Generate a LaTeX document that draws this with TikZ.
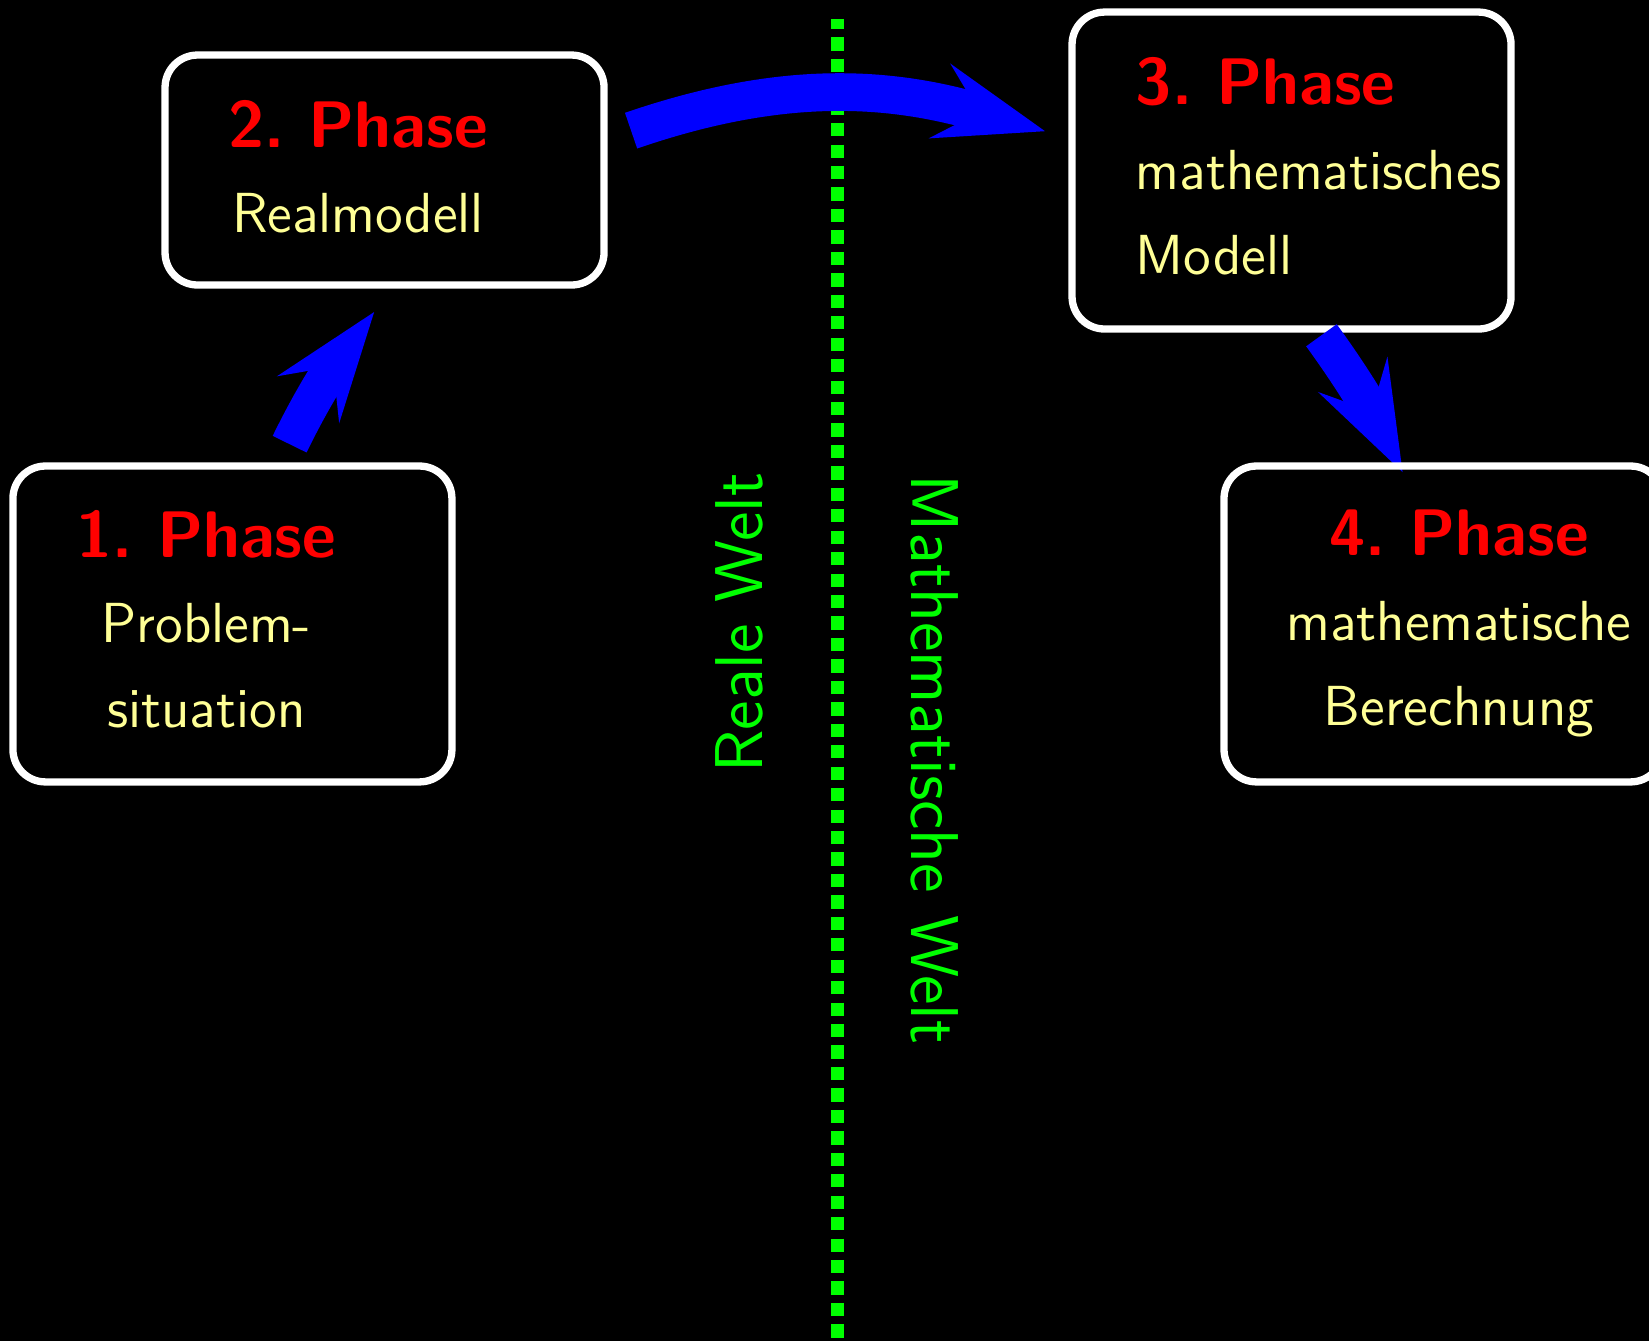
\documentclass[tikz,border=0pt]{standalone}
\usepackage{tikz}
\usepackage{xcolor}
\usetikzlibrary{arrows.meta}
\definecolor{paleyellow}{RGB}{255,255,150}
\newcommand{\phasehead}[1]{{\color{red}\Large\bfseries #1}}
\frenchspacing
\pgfdeclarelayer{front}
\pgfsetlayers{main,front}

\begin{document}
\begin{tikzpicture}[
phasebox/.style={draw=white,ultra thick,rounded corners=0.25cm,minimum width=3.377cm},
phasetext/.style={inner sep=0pt,text=paleyellow,font=\sffamily\fontsize{12.36}{14}\selectfont},
worldlabel/.style={inner sep=0pt,text=green,font=\sffamily\fontsize{14.8}{18}\selectfont,anchor=base},
arrow/.style={-{Stealth[length=0.845cm,width=0.6cm,inset=0.32cm,line width=0pt]},line width=0.29cm,blue}
]
\fill[black] (0,0) rectangle (12.685,-10.315);
\useasboundingbox (0,0) rectangle (12.685,-10.315);
% border between the two worlds
\coordinate (divtop) at (6.442,-0.146);
\coordinate (divbot) at (6.442,-10.4);
\draw[green,line width=0.1cm,dash pattern=on 0.102cm off 0.063cm,dash phase=0.024cm] (divtop) -- (divbot);
\node[worldlabel,rotate=90] (real) at (5.867,-4.792) {Reale Welt};
\node[worldlabel,rotate=-90] (math) at (7.008,-5.844) {Mathematische Welt};
% phases
\node[phasebox,minimum height=2.43cm] (p1) at (1.788,-4.80) {};
\node[phasebox,minimum height=1.769cm] (p2) at (2.958,-1.308) {};
\node[phasebox,minimum height=2.438cm] (p3) at (9.935,-1.312) {};
\begin{pgfonlayer}{front}
\node[phasebox,minimum height=2.43cm] (p4) at (11.104,-4.80) {};
\end{pgfonlayer}
\node[phasetext,align=center,anchor=north] (t1) at (1.588,-3.923) {\phasehead{1. Phase}\\[4.6pt]Problem-\\[4.6pt]situation};
\node[phasetext,align=center,anchor=north] (t2) at (2.754,-0.762) {\phasehead{2. Phase}\\[4.6pt]Realmodell};
\node[phasetext,align=left,anchor=north west] (t3) at (8.731,-0.432) {\phasehead{3. Phase}\\[4.6pt]mathematisches\\[4.6pt]Modell};
\node[phasetext,align=center,anchor=north] (t4) at (11.223,-3.917) {\phasehead{4. Phase}\\[4.6pt]mathematische\\[4.6pt]Berechnung};
% transitions
\draw[arrow] ([xshift=0.44cm,yshift=0.14cm]p1.north) to[out=64,in=233] ([xshift=-0.08cm,yshift=-0.18cm]p2.south);
\draw[arrow] ([xshift=0.18cm]p2.10) to[out=19,in=164] ([xshift=-0.18cm]p3.170);
\draw[arrow] ([xshift=0.23cm,yshift=-0.02cm]p3.south) to[out=-54,in=117] ([xshift=-0.315cm,yshift=-0.075cm]p4.north);
\end{tikzpicture}
\end{document}
